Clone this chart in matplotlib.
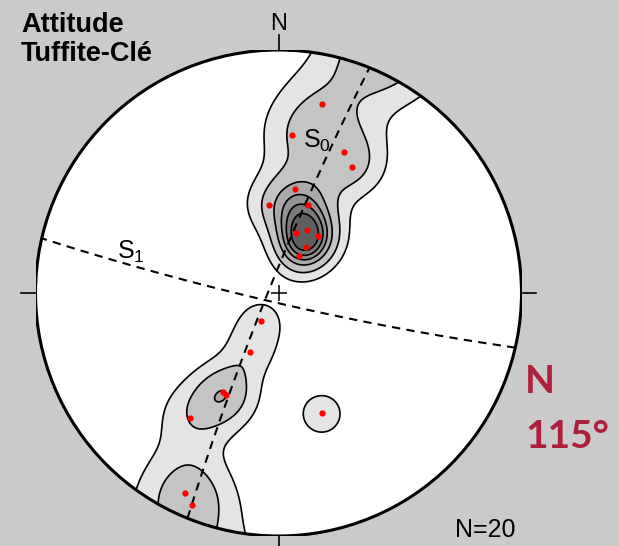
import numpy as np
import matplotlib.pyplot as plt
from matplotlib.patches import Circle

# pole orientations (trend, plunge in degrees), lower hemisphere, Wulff net
trends = [12.9, 4.8, 25.0, 30.2, 9.2, 354.0, 18.8, 16.5, 24.2, 34.9,
          30.4, 29.0, 211.6, 205.8, 209.3, 207.2, 215.2, 160.3, 205.0, 202.1]
plunges = [12.9, 23.8, 24.9, 28.0, 43.1, 50.0, 48.3, 61.1, 58.1, 58.1,
           65.1, 70.2, 74.6, 59.8, 39.8, 39.3, 25.5, 34.5, 5.5, 3.5]

# planes: dip direction, dip
s0_plane = (292.0, 85.3)
s1_plane = (193.0, 85.3)

# density contour levels (summed kernel counts) and their fills
levels = [0.76, 1.5, 2.3, 2.9, 3.4, 3.9, 99]
fills = ['#e4e4e4', '#c4c4c4', '#aaaaaa', '#929292', '#7a7a7a', '#5f5f5f']
kappa = 40.0

W, H = 619, 546
cx, cy, R = 278.5, 293.0, 243.0


def to_vec(trend, plunge):
    t = np.radians(trend)
    p = np.radians(plunge)
    return np.stack([np.cos(p) * np.sin(t), np.cos(p) * np.cos(t), -np.sin(p)], axis=-1)


def project(v):
    # stereographic (equal-angle), lower hemisphere
    v = np.asarray(v, float)
    v = np.where(v[..., 2:3] > 0, -v, v)
    theta = np.arccos(np.clip(-v[..., 2], -1, 1))
    r = np.tan(theta / 2)
    az = np.arctan2(v[..., 0], v[..., 1])
    return r * np.sin(az), r * np.cos(az)


def great_circle(dipdir, dip, n=200):
    s = np.radians(dipdir - 90)
    d = np.radians(dipdir)
    dp = np.radians(dip)
    sv = np.array([np.sin(s), np.cos(s), 0.0])
    dv = np.array([np.cos(dp) * np.sin(d), np.cos(dp) * np.cos(d), -np.sin(dp)])
    t = np.linspace(0, np.pi, n)[:, None]
    return project(np.cos(t) * sv + np.sin(t) * dv)


fig = plt.figure(figsize=(W / 100, H / 100), dpi=100)
fig.patch.set_facecolor('#cacaca')
ax = fig.add_axes([(cx - R) / W, (H - cy - R) / H, 2 * R / W, 2 * R / H])
ax.set_xlim(-1, 1)
ax.set_ylim(-1, 1)
ax.axis('off')

net = Circle((0, 0), 1, facecolor='white', edgecolor='none', zorder=0)
ax.add_patch(net)

# smoothed density on the sphere (axial data)
g = np.linspace(-1.08, 1.08, 360)
gx, gy = np.meshgrid(g, g)
gth = 2 * np.arctan(np.hypot(gx, gy))
gaz = np.arctan2(gx, gy)
gv = np.stack([np.sin(gth) * np.sin(gaz), np.sin(gth) * np.cos(gaz), -np.cos(gth)], axis=-1)
poles = to_vec(np.array(trends), np.array(plunges))
cosd = np.abs(gv @ poles.T)
dens = np.exp(kappa * (cosd - 1)).sum(axis=-1)

cf = ax.contourf(gx, gy, dens, levels=levels, colors=fills, zorder=1)
cl = ax.contour(gx, gy, dens, levels=levels[:-1], colors='black', linewidths=1.2, zorder=2)
clip = Circle((0, 0), 1, transform=ax.transData)
cf.set_clip_path(clip)
cl.set_clip_path(clip)

# girdles
for plane in (s0_plane, s1_plane):
    x, y = great_circle(*plane)
    ax.plot(x, y, color='black', lw=1.5, ls=(0, (4, 3)), zorder=3)

px, py = project(poles)
ax.plot(px, py, 'o', color='red', ms=4.5, mec='none', zorder=4)

ax.plot(0, 0, marker='+', color='black', ms=12, mew=1.1, zorder=4)
ax.add_patch(Circle((0, 0), 1, facecolor='none', edgecolor='black', lw=2.2, zorder=5))
for a in (0, 90, 180, 270):
    s, c = np.sin(np.radians(a)), np.cos(np.radians(a))
    ax.plot([s, 1.06 * s], [c, 1.06 * c], color='black', lw=1.2, clip_on=False, zorder=5)

ax.text(0.10, 0.597, r'$\mathregular{S_0}$', fontsize=18, family='Liberation Sans',
        va='baseline', zorder=6)
ax.text(-0.665, 0.14, r'$\mathregular{S_1}$', fontsize=18, family='Liberation Sans',
        va='baseline', zorder=6)


def fxy(x, y):
    return x / W, 1 - y / H


fig.text(*fxy(21, 32), 'Attitude', fontsize=19.5, weight='bold', family='Liberation Sans', va='baseline')
fig.text(*fxy(21, 61), 'Tuffite-Clé', fontsize=19.5, weight='bold', family='Liberation Sans', va='baseline')
fig.text(*fxy(279, 30), 'N', fontsize=17, family='Liberation Sans', ha='center', va='baseline')
fig.text(*fxy(455, 537), 'N=20', fontsize=18, family='Liberation Sans', va='baseline')
fig.text(*fxy(525, 393), 'N', fontsize=28, weight='bold', family='Lato', color='#ad1f3a', va='baseline')
fig.text(*fxy(525, 448), '115°', fontsize=28, weight='bold', family='Lato', color='#ad1f3a', va='baseline')

fig.savefig('out.png', dpi=100, facecolor=fig.get_facecolor())
